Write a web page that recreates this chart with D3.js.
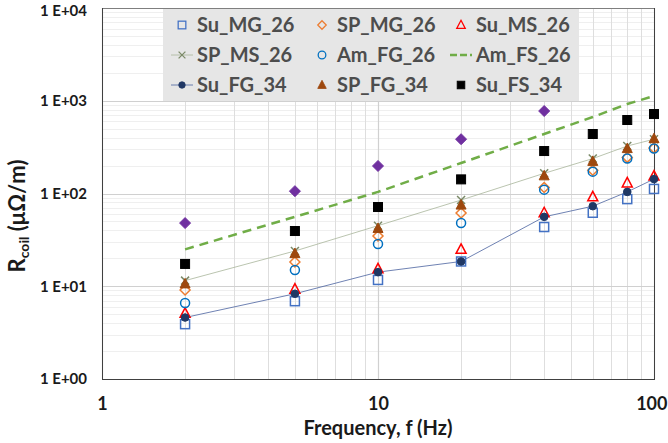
<!DOCTYPE html>
<html><head><meta charset="utf-8">
<script src="https://cdn.jsdelivr.net/npm/d3@7"></script>
<style>body{margin:0;background:#fff}svg{display:block}text{font-family:Lato,"Open Sans",sans-serif}</style>
</head><body><svg id="c" width="668" height="443"></svg>
<script>
const freqs = [2, 5, 10, 20, 40, 60, 80, 100];
const suMG26 = [3.9, 6.9, 11.7, 18.5, 43.5, 62, 87, 112];
const spMG26 = [9.1, 18.3, 34.8, 61.6, 116, 178, 245, 310];
const suMS26 = [5.1, 9.3, 15.4, 25, 62, 92, 130, 154];
const spMS26 = [11.5, 24, 45, 85, 165, 238, 325, 385];
const amFG26 = [6.6, 15, 28.5, 48, 110, 172, 238, 305];
const amFS26 = [25, 56, 104, 213, 438, 668, 922, 1125];
const suFG34 = [4.6, 8.3, 14.2, 18.5, 56, 73, 104, 143];
const spFG34 = [10.6, 22.5, 42, 75, 155, 222, 305, 390];
const suFS34 = [17.4, 39.4, 71.5, 142, 287, 438, 620, 719];
const purpleFreqs = [2, 5, 10, 20, 40];
const purpleVals = [48, 106, 198, 385, 775];
const xTicks = [1, 10, 100];
const yTicks = [1, 10, 100, 1000, 10000];
const yTickLabels = ["1 E+00", "1 E+01", "1 E+02", "1 E+03", "1 E+04"];

const series = [
  {name:"Su_MG_26", vals:suMG26, marker:"square", fill:"none", stroke:"#4472C4"},
  {name:"SP_MG_26", vals:spMG26, marker:"diamond", fill:"none", stroke:"#ED7D31"},
  {name:"Su_MS_26", vals:suMS26, marker:"triangle", fill:"none", stroke:"#FF0000"},
  {name:"SP_MS_26", vals:spMS26, marker:"x", fill:"none", stroke:"#7b8a68", line:"#a8b59a", lw:0.8},
  {name:"Am_FG_26", vals:amFG26, marker:"circle", fill:"none", stroke:"#0070C0"},
  {name:"Am_FS_26", vals:amFS26, marker:null, line:"#70AD47", lw:2.5, dash:"9,6"},
  {name:"Su_FG_34", vals:suFG34, marker:"circle", fill:"#203864", stroke:"#203864", line:"#4a62a0", lw:0.8, small:true},
  {name:"SP_FG_34", vals:spFG34, marker:"triangle", fill:"#9E480E", stroke:"#9E480E"},
  {name:"Su_FS_34", vals:suFS34, marker:"square", fill:"#000", stroke:"#000"}
];

const svg = d3.select("#c");
const L = 102, R = 654, T = 8, B = 379;
const x = d3.scaleLog().domain([1, 100]).range([L, R]);
const y = d3.scaleLog().domain([1, 10000]).range([B, T]);

// minor gridlines
const minorY = [];
for (let d = 1; d < 10000; d *= 10) for (let k = 2; k <= 9; k++) minorY.push(d * k);
const minorX = [];
for (let d = 1; d < 100; d *= 10) for (let k = 2; k <= 9; k++) minorX.push(d * k);
const g = svg.append("g");
g.selectAll(".my").data(minorY).join("line")
  .attr("x1", L).attr("x2", R).attr("y1", d => Math.round(y(d)) + 0.5).attr("y2", d => Math.round(y(d)) + 0.5)
  .attr("stroke", "#efefef").attr("stroke-width", 1);
g.selectAll(".mx").data(minorX).join("line")
  .attr("y1", T).attr("y2", B).attr("x1", d => Math.round(x(d)) + 0.5).attr("x2", d => Math.round(x(d)) + 0.5)
  .attr("stroke", "#dedede").attr("stroke-width", 1);
g.selectAll(".My").data(yTicks).join("line")
  .attr("x1", L).attr("x2", R).attr("y1", d => Math.round(y(d)) + 0.5).attr("y2", d => Math.round(y(d)) + 0.5)
  .attr("stroke", "#d0d0d0").attr("stroke-width", 1.2);
g.selectAll(".Mx").data(xTicks).join("line")
  .attr("y1", T).attr("y2", B).attr("x1", d => Math.round(x(d)) + 0.5).attr("x2", d => Math.round(x(d)) + 0.5)
  .attr("stroke", "#d0d0d0").attr("stroke-width", 1.2);

// frame
svg.append("rect").attr("x", L + 0.5).attr("y", T + 0.5).attr("width", R - L).attr("height", B - T)
  .attr("fill", "none").attr("stroke", "#7f7f7f").attr("stroke-width", 1);
svg.append("line").attr("x1", L + 0.5).attr("x2", L + 0.5).attr("y1", T).attr("y2", B + 1).attr("stroke", "#404040");
svg.append("line").attr("x1", L).attr("x2", R + 1).attr("y1", B + 0.5).attr("y2", B + 0.5).attr("stroke", "#404040");
svg.append("line").attr("x1", R + 0.5).attr("x2", R + 0.5).attr("y1", T).attr("y2", B + 1).attr("stroke", "#404040");

// axes labels via d3 axes
const yAxis = d3.axisLeft(y).tickValues(yTicks).tickFormat((d, i) => yTickLabels[i]).tickSize(0).tickPadding(15);
const ya = svg.append("g").attr("transform", `translate(${L},0)`).call(yAxis);
ya.select(".domain").remove();
ya.selectAll("text").attr("font-size", 15).attr("font-weight", "bold").attr("fill", "#1a1a1a").attr("font-family", "Lato, sans-serif");
ya.selectAll("text").filter(d => d === 10000).attr("dy", "0.5em");
const xAxis = d3.axisBottom(x).tickValues(xTicks).tickFormat(d3.format("d")).tickSize(0).tickPadding(18);
const xa = svg.append("g").attr("transform", `translate(0,${B})`).call(xAxis);
xa.select(".domain").remove();
xa.selectAll("text").attr("font-size", 18).attr("font-weight", "bold").attr("fill", "#1a1a1a").attr("font-family", "Lato, sans-serif");
xa.selectAll("text").filter(d => d === 100).attr("text-anchor", "end").attr("x", 13);

svg.append("text").attr("x", 378).attr("y", 435).attr("text-anchor", "middle")
  .attr("font-size", 20).attr("font-weight", "bold").attr("fill", "#1a1a1a").text("Frequency, f (Hz)");
const yt = svg.append("text").attr("transform", "translate(25,216) rotate(-90)").attr("text-anchor", "middle")
  .attr("font-size", 22).attr("font-weight", "bold").attr("fill", "#1a1a1a");
yt.append("tspan").text("R");
yt.append("tspan").attr("font-size", 14).attr("dy", 4).text("coil");
yt.append("tspan").attr("dy", -4).text(" (μΩ/m)");

// marker drawing
function drawMarker(sel, m, s) {
  const sz = 9;
  if (m === "square") sel.append("rect").attr("x", -sz/2).attr("y", -sz/2).attr("width", sz).attr("height", sz);
  else if (m === "circle") sel.append("circle").attr("r", s.small ? 3.8 : 4.5);
  else if (m === "diamond") sel.append("path").attr("d", "M0,-5L5,0L0,5L-5,0Z");
  else if (m === "triangle") sel.append("path").attr("d", "M0,-5.5L5,4L-5,4Z");
  else if (m === "x") sel.append("path").attr("d", "M-4,-4L4,4M-4,4L4,-4");
  sel.selectAll("*").attr("fill", s.fill).attr("stroke", s.stroke).attr("stroke-width", s.fill === "none" || m === "x" ? 1.5 : 1);
}

const line = d3.line().x((d, i) => x(freqs[i])).y(d => y(d));
series.filter(s => s.line).forEach(s => {
  svg.append("path").attr("d", line(s.vals)).attr("fill", "none").attr("stroke", s.line)
    .attr("stroke-width", s.lw).attr("stroke-dasharray", s.dash || null);
});
// purple diamonds (unlabeled series)
svg.selectAll(".pp").data(purpleVals).join("path")
  .attr("transform", (d, i) => `translate(${x(purpleFreqs[i])},${y(d)})`)
  .attr("d", "M0,-5.5L5.5,0L0,5.5L-5.5,0Z").attr("fill", "#7030A0").attr("stroke", "#7030A0");
series.filter(s => s.marker).forEach(s => {
  s.vals.forEach((v, i) => {
    const mg = svg.append("g").attr("transform", `translate(${x(freqs[i])},${y(v)})`);
    drawMarker(mg, s.marker, s);
  });
});

// legend
const lg = svg.append("g");
lg.append("rect").attr("x", 163).attr("y", 9).attr("width", 416).attr("height", 92).attr("fill", "#e6e6e6");
const colX = [182, 322, 461], rowY = [25, 55, 85];
series.forEach((s, i) => {
  const cx = colX[i % 3], cy = rowY[Math.floor(i / 3)];
  const it = lg.append("g").attr("transform", `translate(${cx},${cy})`);
  if (s.line) it.append("line").attr("x1", -11).attr("x2", 11).attr("y1", 0).attr("y2", 0)
    .attr("stroke", s.line).attr("stroke-width", s.lw).attr("stroke-dasharray", s.dash ? "7,3" : null);
  if (s.marker) drawMarker(it.append("g").attr("transform", "scale(0.85)"), s.marker, s);
  lg.append("text").attr("x", cx + 15).attr("y", cy + 7).attr("font-size", 20).attr("font-weight", "bold")
    .attr("fill", "#4d4d4d").text(s.name);
});
</script></body></html>
